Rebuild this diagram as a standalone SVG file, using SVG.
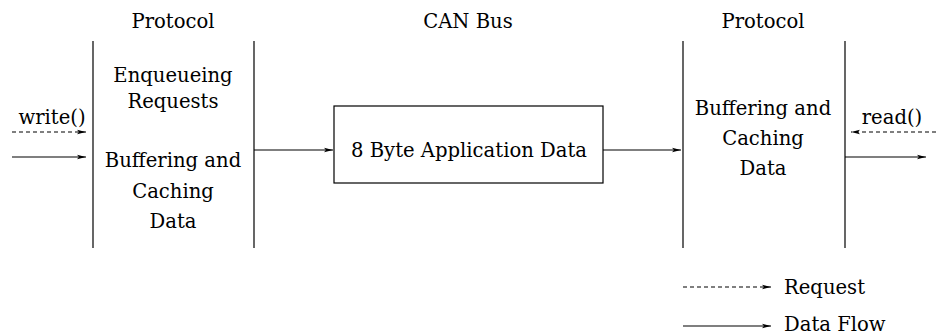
<svg xmlns="http://www.w3.org/2000/svg" width="936" height="335" viewBox="0 0 936 335">
<defs>
<marker id="ah" markerWidth="10" markerHeight="6" refX="9" refY="3" orient="auto" markerUnits="userSpaceOnUse">
<path d="M0,0.8 L9,3 L0,5.2 L2,3 Z" fill="#000"/>
</marker>
</defs>
<style>
.t{font-family:'DejaVu Serif','Liberation Serif',serif;font-size:19.6px;fill:#000;text-anchor:middle}
.s{text-anchor:start}
.l{fill:none;stroke:#000;stroke-width:1.2}
.d{stroke-dasharray:4,3}
.a{marker-end:url(#ah)}
</style>
<rect width="936" height="335" fill="#fff"/>
<g id="protocol-left">
<text class="t" x="173" y="28">Protocol</text>
<line class="l" x1="93" y1="41" x2="93" y2="248"/>
<line class="l" x1="254" y1="41" x2="254" y2="248"/>
<text class="t" x="173" y="82">Enqueueing</text>
<text class="t" x="173" y="108">Requests</text>
<text class="t" x="173" y="167">Buffering and</text>
<text class="t" x="173" y="198">Caching</text>
<text class="t" x="173" y="228">Data</text>
</g>
<g id="can-bus">
<text class="t" x="468" y="28">CAN Bus</text>
<rect class="l" x="334" y="106" width="269" height="77"/>
<text class="t" x="469" y="157">8 Byte Application Data</text>
</g>
<g id="protocol-right">
<text class="t" x="763" y="28">Protocol</text>
<line class="l" x1="683" y1="41" x2="683" y2="248"/>
<line class="l" x1="845" y1="41" x2="845" y2="248"/>
<text class="t" x="763" y="115">Buffering and</text>
<text class="t" x="763" y="145">Caching</text>
<text class="t" x="763" y="175">Data</text>
</g>
<g id="labels">
<text class="t" x="52" y="124">write()</text>
<text class="t" x="892" y="124">read()</text>
</g>
<g id="connectors">
<line class="l d a" x1="12" y1="132" x2="86" y2="132"/>
<line class="l a" x1="12" y1="157" x2="86" y2="157"/>
<line class="l a" x1="254" y1="150" x2="333" y2="150"/>
<line class="l a" x1="603" y1="150" x2="681" y2="150"/>
<line class="l d a" x1="936" y1="132" x2="851" y2="132"/>
<line class="l a" x1="845" y1="157" x2="926" y2="157"/>
</g>
<g id="legend">
<line class="l d a" x1="683" y1="287" x2="771" y2="287"/>
<text class="t s" x="784" y="294">Request</text>
<line class="l a" x1="683" y1="326" x2="771" y2="326"/>
<text class="t s" x="784" y="331">Data Flow</text>
</g>
</svg>
